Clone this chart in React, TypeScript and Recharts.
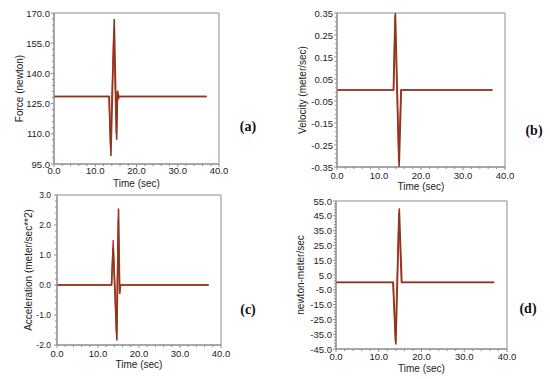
import React from "react";
import { Line, LineChart, ReferenceArea, XAxis, YAxis } from "recharts";

// time axis (sec)
const timeTicks = [0, 10, 20, 30, 40];

// (a) force, newton
const forceTicks = [95, 110, 125, 140, 155, 170];
const forceTime = [0, 13.4, 13.8, 14.6, 15.2, 15.4, 15.7, 37];
const forceBrown = [128.5, 128.5, 99, 167, 107, 131, 128.5, 128.5];
const forceRedTime = [0, 13.3, 13.7, 14.5, 15.1, 15.4, 15.6, 15.8, 37];
const forceRed = [128.5, 128.5, 104, 161, 110, 131.5, 127, 128.5, 128.5];

// (b) velocity, meter/sec
const velocityTicks = [-0.35, -0.25, -0.15, -0.05, 0.05, 0.15, 0.25, 0.35];
const velocityTime = [0, 13.5, 13.9, 14.8, 15.3, 37];
const velocityBrown = [0, 0, 0.35, -0.35, 0, 0];
const velocityRedTime = [0, 13.4, 13.8, 14.7, 15.2, 37];
const velocityRed = [0, 0, 0.34, -0.33, 0, 0];

// (c) acceleration, meter/sec**2
const accelTicks = [-2, -1, 0, 1, 2, 3];
const accelTime = [0, 13.3, 13.7, 14.6, 15.0, 15.3, 15.5, 37];
const accelBrown = [0, 0, 1.25, -1.85, 2.55, -0.3, 0, 0];
const accelRedTime = [0, 13.3, 13.7, 14.5, 14.95, 15.25, 15.5, 37];
const accelRed = [0, 0, 1.5, -1.6, 2.2, -0.2, 0, 0];

// (d) newton-meter/sec
const powerTicks = [-45, -35, -25, -15, -5, 5, 15, 25, 35, 45, 55];
const powerTime = [0, 13.4, 14.0, 14.8, 15.4, 37];
const powerBrown = [0, 0, -42, 50, 0, 0];
const powerRedTime = [0, 13.3, 13.9, 14.7, 15.3, 37];
const powerRed = [0, 0, -40, 47, 0, 0];

const BROWN = "#8a3a1c";
const RED = "#e2262b";
const AXIS = "#8c8c8c";
const FONT = "'Liberation Sans', Arial, sans-serif";

const toPoints = (t: number[], v: number[]) => t.map((x, i) => ({ t: x, v: v[i] }));

// majors plus evenly spaced minor ticks between them
const withMinors = (major: number[], sub: number) => {
  const out: number[] = [];
  for (let i = 0; i < major.length - 1; i++) {
    const step = (major[i + 1] - major[i]) / sub;
    for (let k = 0; k < sub; k++) out.push(major[i] + step * k);
  }
  out.push(major[major.length - 1]);
  return out;
};

const isMajor = (v: number, major: number[]) => major.some((m) => Math.abs(m - v) < 1e-9);

const panels = [
  {
    key: "a",
    plot: { x: 54, y: 13, w: 165, h: 151 },
    yTicks: forceTicks,
    ySub: 5,
    digits: 1,
    yFont: 9.5,
    yTitle: "Force (newton)",
    titleOff: 35,
    labelGap: 4,
    xDy: 6,
    brown: toPoints(forceTime, forceBrown),
    red: toPoints(forceRedTime, forceRed),
    tag: { x: 248, y: 127 },
  },
  {
    key: "b",
    plot: { x: 337, y: 13, w: 168, h: 154 },
    yTicks: velocityTicks,
    ySub: 5,
    digits: 2,
    yFont: 9.5,
    yTitle: "Velocity (meter/sec)",
    titleOff: 35,
    labelGap: 4,
    xDy: 8,
    brown: toPoints(velocityTime, velocityBrown),
    red: toPoints(velocityRedTime, velocityRed),
    tag: { x: 534, y: 131 },
  },
  {
    key: "c",
    plot: { x: 57, y: 195, w: 164, h: 150 },
    yTicks: accelTicks,
    ySub: 5,
    digits: 1,
    yFont: 8.5,
    yTitle: "Acceleration (meter/sec**2)",
    titleOff: 29,
    labelGap: 6,
    xDy: 8,
    brown: toPoints(accelTime, accelBrown),
    red: toPoints(accelRedTime, accelRed),
    tag: { x: 248, y: 310 },
  },
  {
    key: "d",
    plot: { x: 336, y: 201, w: 171, h: 148 },
    yTicks: powerTicks,
    ySub: 5,
    digits: 1,
    yFont: 9.5,
    yTitle: "newton-meter/sec",
    titleOff: 36,
    labelGap: 4,
    xDy: 7,
    brown: toPoints(powerTime, powerBrown),
    red: toPoints(powerRedTime, powerRed),
    tag: { x: 528, y: 309 },
  },
];

const YAW = 56;
const M = { top: 6, right: 16, bottom: 0, left: 0 };
const XAH = 28;

function Panel({ p }: { p: (typeof panels)[number] }) {
  const lo = p.yTicks[0];
  const hi = p.yTicks[p.yTicks.length - 1];

  const XTick = (props: any) => {
    const { x, y, payload } = props;
    const major = isMajor(payload.value, timeTicks);
    return (
      <g>
        <line x1={x} x2={x} y1={y} y2={y + (major ? 3 : 2)} stroke={AXIS} />
        {major && (
          <text x={x} y={y + p.xDy} textAnchor="middle" dominantBaseline="central" fontSize={9.5} fontFamily={FONT} fill="#222">
            {payload.value.toFixed(1)}
          </text>
        )}
      </g>
    );
  };

  const YTick = (props: any) => {
    const { x, y, payload } = props;
    const major = isMajor(payload.value, p.yTicks);
    return (
      <g>
        <line x1={x - (major ? 3 : 2)} x2={x} y1={y} y2={y} stroke={AXIS} />
        {major && (
          <text x={x - p.labelGap} y={y} textAnchor="end" dominantBaseline="central" fontSize={p.yFont} fontFamily={FONT} fill="#222">
            {payload.value.toFixed(p.digits)}
          </text>
        )}
      </g>
    );
  };

  const yTitle = (props: any) => {
    const vb = props.viewBox;
    const cx = vb.x + vb.width - p.titleOff;
    const cy = vb.y + vb.height / 2;
    return (
      <text x={cx} y={cy} transform={`rotate(-90, ${cx}, ${cy})`} textAnchor="middle" dominantBaseline="central" fontSize={10} fontFamily={FONT} fill="#222">
        {p.yTitle}
      </text>
    );
  };

  const xTitle = (props: any) => {
    const vb = props.viewBox;
    return (
      <text x={vb.x + vb.width / 2} y={vb.y + 19} textAnchor="middle" dominantBaseline="central" fontSize={10} fontFamily={FONT} fill="#222">
        Time (sec)
      </text>
    );
  };

  return (
    <div style={{ position: "absolute", left: p.plot.x - YAW, top: p.plot.y - M.top }}>
      <LineChart width={p.plot.w + YAW + M.right} height={p.plot.h + M.top + XAH} margin={M}>
        <XAxis
          dataKey="t"
          type="number"
          domain={[0, 40]}
          ticks={withMinors(timeTicks, 5)}
          interval={0}
          tickSize={0}
          tickMargin={0}
          tick={XTick}
          height={XAH}
          stroke={AXIS}
          allowDataOverflow
          label={xTitle}
        />
        <YAxis
          type="number"
          domain={[lo, hi]}
          ticks={withMinors(p.yTicks, p.ySub)}
          interval={0}
          tickSize={0}
          tickMargin={0}
          tick={YTick}
          width={YAW}
          stroke={AXIS}
          allowDataOverflow
          label={yTitle}
        />
        <ReferenceArea x1={0} x2={40} y1={lo} y2={hi} fill="none" stroke={AXIS} strokeWidth={1} ifOverflow="visible" />
        <Line data={p.red} dataKey="v" type="linear" stroke={RED} strokeWidth={1.4} dot={false} isAnimationActive={false} />
        <Line data={p.brown} dataKey="v" type="linear" stroke={BROWN} strokeWidth={1.6} dot={false} isAnimationActive={false} />
      </LineChart>
    </div>
  );
}

export default function App() {
  return (
    <div style={{ position: "absolute", left: 0, top: 0, width: 550, height: 379, background: "#fff", overflow: "hidden" }}>
      {panels.map((p) => (
        <Panel key={p.key} p={p} />
      ))}
      {panels.map((p) => (
        <div
          key={`tag-${p.key}`}
          style={{
            position: "absolute",
            left: p.tag.x,
            top: p.tag.y,
            transform: "translate(-50%, -50%)",
            fontFamily: "'Liberation Serif', 'Times New Roman', serif",
            fontWeight: "bold",
            fontSize: 14,
            color: "#111",
            lineHeight: 1,
          }}
        >
          ({p.key})
        </div>
      ))}
    </div>
  );
}
